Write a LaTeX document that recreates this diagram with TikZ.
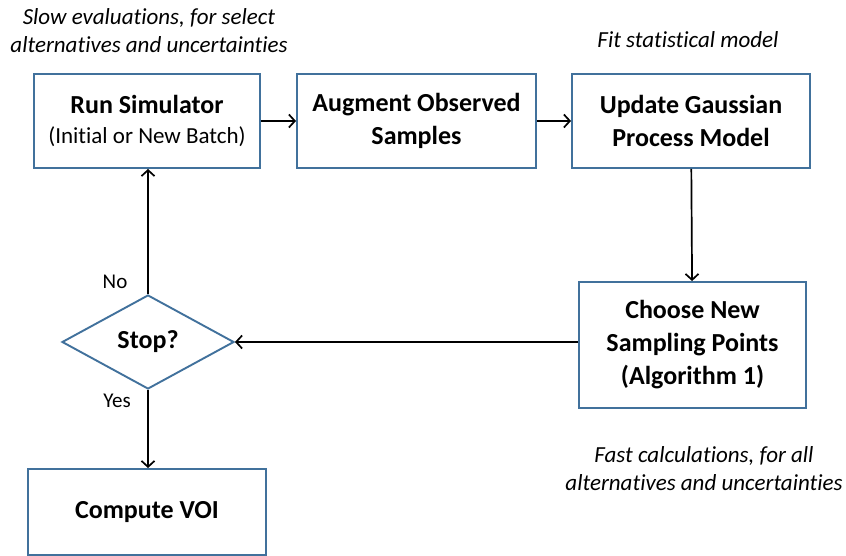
\documentclass[tikz,border=0pt]{standalone}
\usepackage{fontspec}
\setmainfont{Carlito}[Ligatures={NoCommon,NoContextual}]
\usetikzlibrary{shapes.geometric,arrows.meta}
% "t" followed by "i" without the ti ligature
\newcommand\tsep{t\kern0pt{}i}
\definecolor{boxblue}{RGB}{65,113,156}
\tikzset{
  stepbox/.style={draw=boxblue, line width=1.9pt, fill=white, align=center,
    inner sep=0pt, font=\fontsize{26}{33}\selectfont\bfseries},
  decision/.style={diamond, draw=boxblue, line width=1.9pt, fill=white,
    inner sep=0pt, font=\fontsize{26}{33}\selectfont\bfseries},
  note/.style={align=center, inner sep=0pt, font=\fontsize{23}{28}\selectfont\itshape},
  branch/.style={inner sep=0pt, font=\fontsize{21}{25}\selectfont},
  flow/.style={line width=1.7pt, -{Straight Barb[length=6pt,width=13pt,line width=1.7pt]}}
}
\begin{document}
\begin{tikzpicture}[x=1pt, y=-1pt]
  \useasboundingbox (0,0) rectangle (846,556);

  % process steps
  \node[stepbox, minimum width=226pt, minimum height=94pt] (run) at (147,121)
    {Run Simulator\\[-3pt]{\fontsize{23}{28}\selectfont\mdseries (Ini\tsep al or New Batch)}};
  \node[stepbox, minimum width=239pt, minimum height=94pt] (aug) at (416.5,121)
    {Augment Observed\\Samples};
  \node[stepbox, minimum width=238pt, minimum height=94pt] (gp) at (691,121)
    {Update Gaussian\\Process Model};
  \node[stepbox, minimum width=227pt, minimum height=126pt] (choose) at (692.5,345)
    {Choose New\\Sampling Points\\(Algorithm 1)};
  \node[decision, minimum width=172pt, minimum height=94pt, aspect=1.83] (stop) at (148,342)
    {Stop?};
  \node[stepbox, minimum width=238pt, minimum height=86pt] (voi) at (147,512)
    {Compute VOI};

  % annotations
  \node[note] (slow) at (149,31)
    {Slow evalua\tsep ons, for select\\alterna\tsep ves and uncertain\tsep es};
  \node[note] (fit) at (688,40) {Fit sta\tsep s\tsep cal model};
  \node[note] (fast) at (704,469)
    {Fast calcula\tsep ons, for all\\alterna\tsep ves and uncertain\tsep es};

  % connectors
  \draw[flow] (run.east |- 0,121) -- (aug.west |- 0,121);
  \draw[flow] (aug) -- (gp);
  \draw[flow] (gp) -- (choose);
  \draw[flow] (choose.west |- stop) -- (stop.east);
  \draw[flow] (stop.north) -- (run.south -| stop.north);
  \draw[flow] (stop.south) -- (voi.north -| stop.south);

  % branch labels
  \node[branch] (no) at (115,282) {No};
  \node[branch] (yes) at (117,401) {Yes};
\end{tikzpicture}
\end{document}
